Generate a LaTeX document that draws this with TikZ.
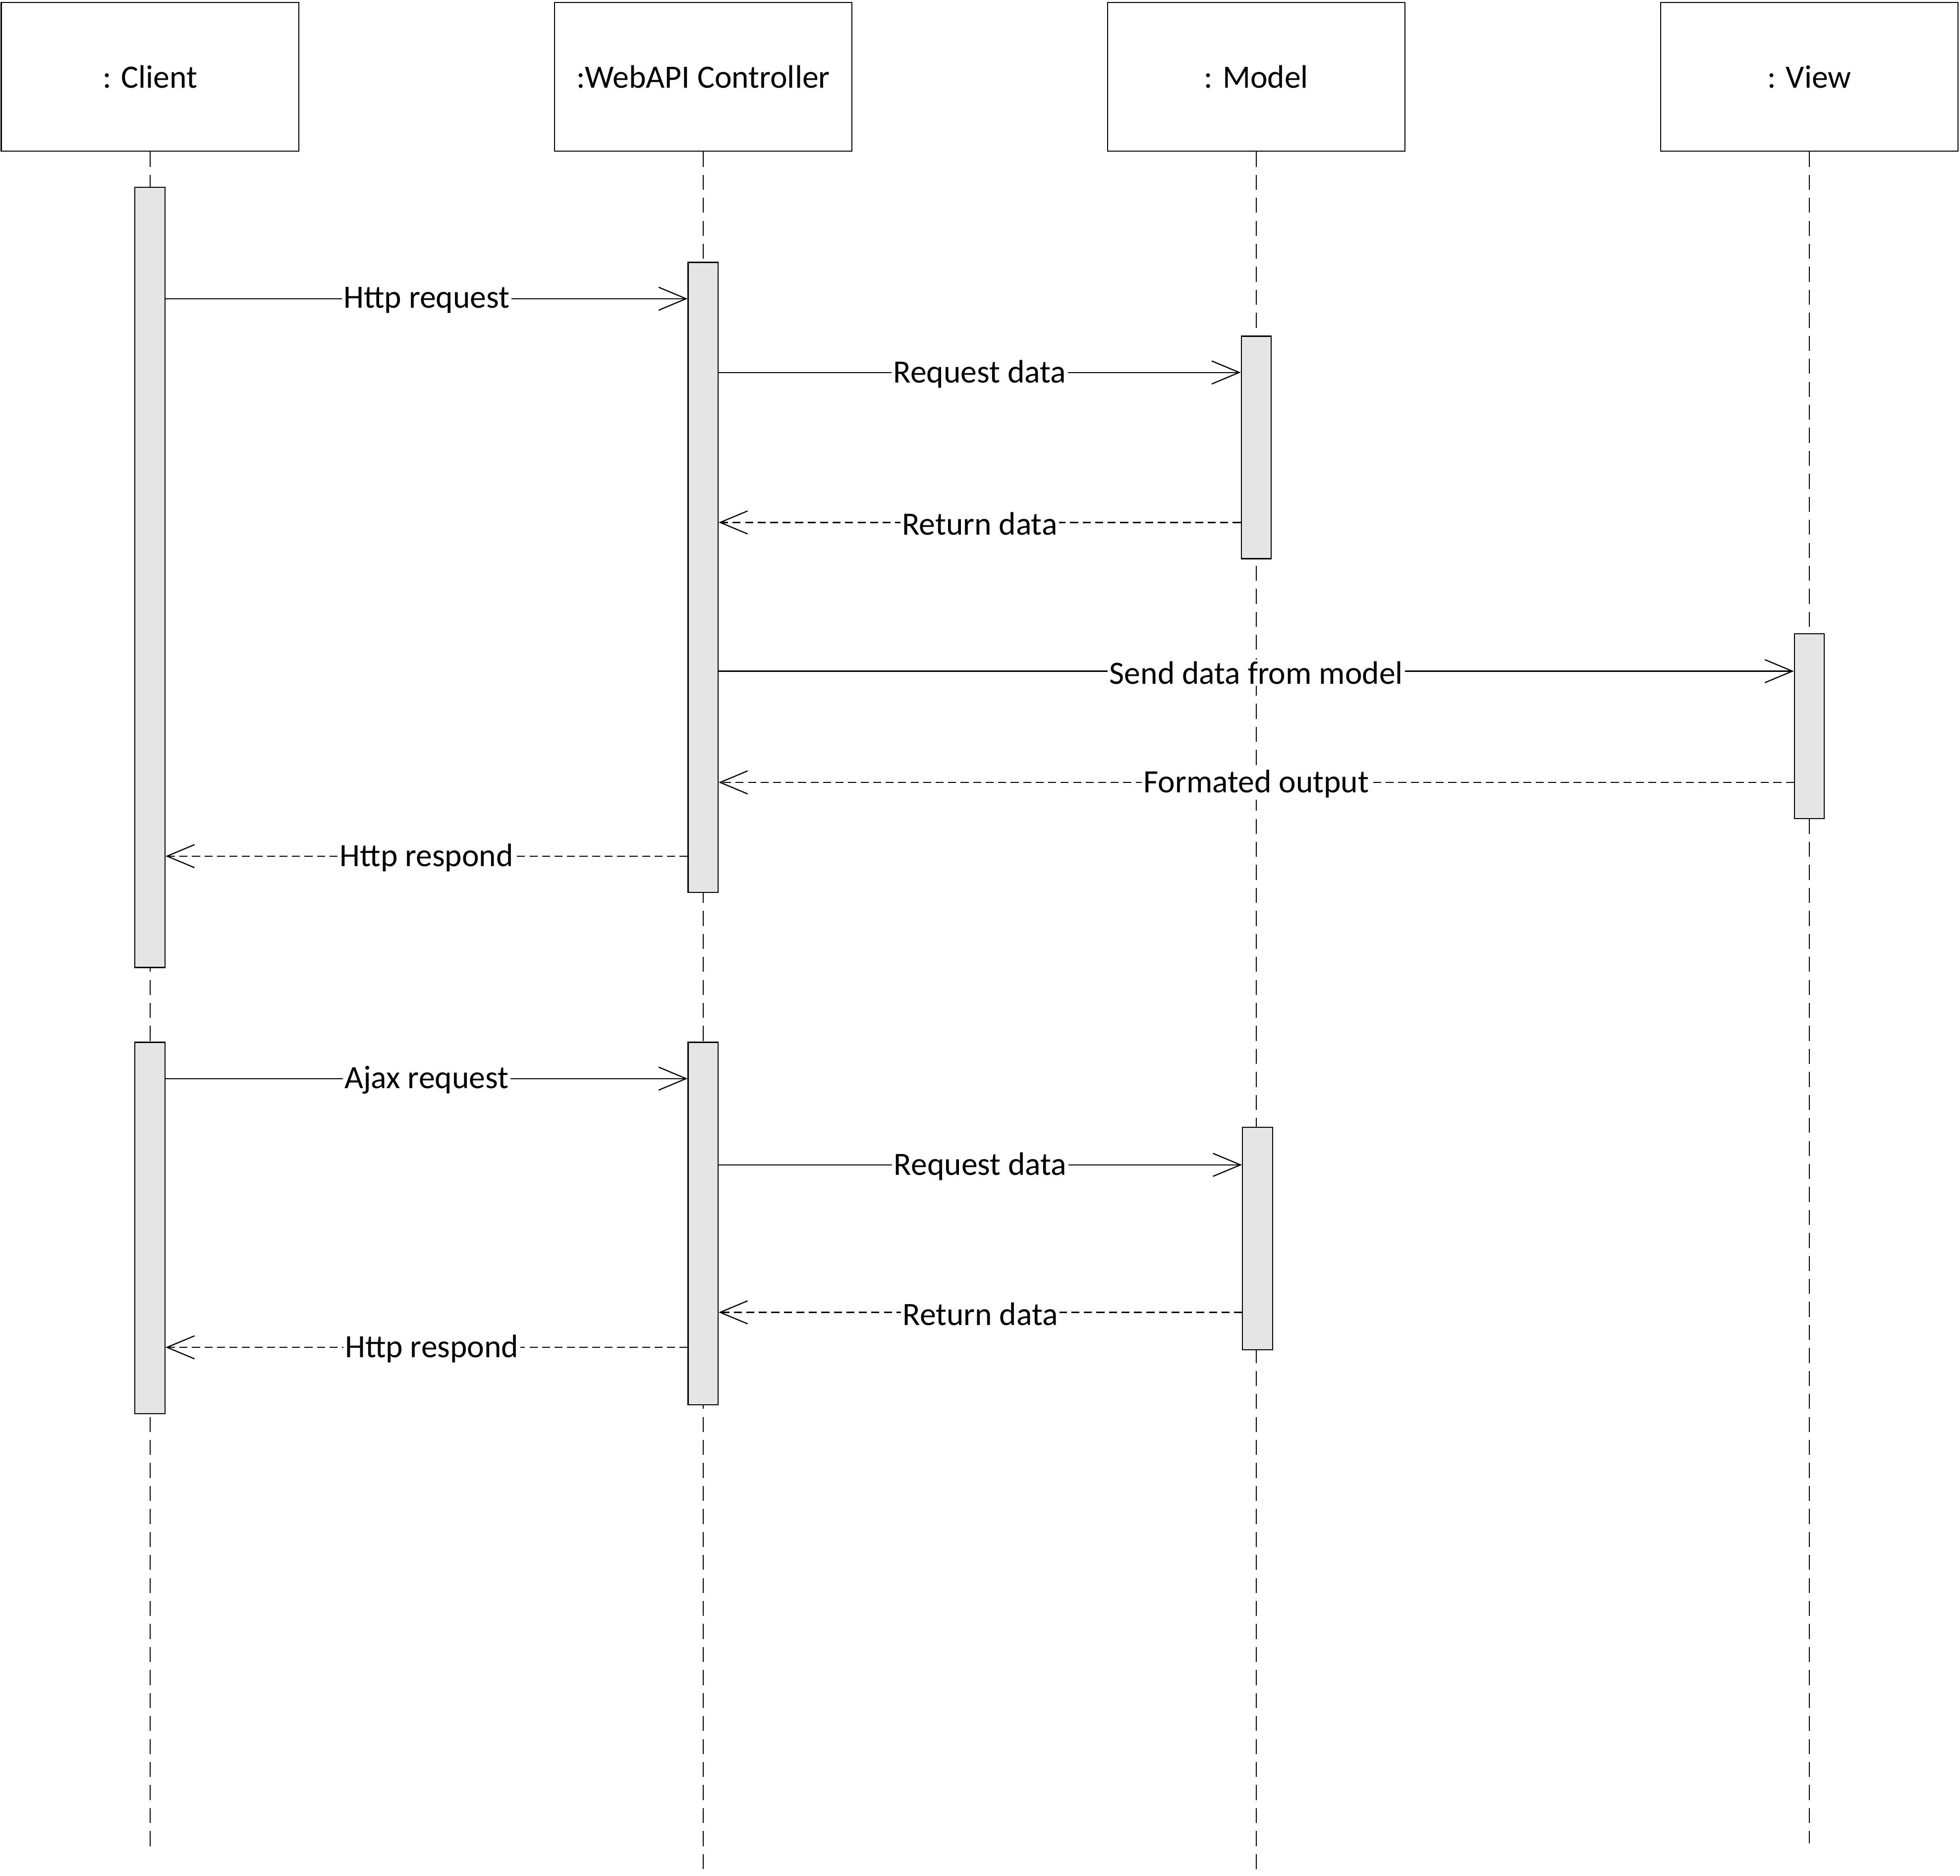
\documentclass[tikz,border=0pt]{standalone}
\usepackage{fontspec}
\setmainfont{Carlito}
\usetikzlibrary{arrows.meta}

\tikzset{
  actor/.style={draw, line width=0.6pt, minimum width=5.95cm, minimum height=2.975cm, inner sep=0pt},
  bar/.style={draw, line width=0.6pt, fill=black!10, minimum width=0.6cm, inner sep=0pt},
  life/.style={line width=0.6pt, dash pattern=on 0.3cm off 0.16cm},
  call/.style={line width=0.65pt, -{Straight Barb[length=0.55cm, width=0.46cm]}},
  reply/.style={call, dash pattern=on 0.16cm off 0.09cm},
  lbl/.style={fill=white, inner sep=1pt, yshift=-0.03cm}
}

\begin{document}
\begin{tikzpicture}[x=0.025cm, y=-0.025cm, every node/.append style={font=\fontsize{18.5}{22}\selectfont}]
        \useasboundingbox (0,0) rectangle (1568,1501);

        % objects
        \node[actor] (cli) at (120,61.5) {: Client};
        \node[actor] (api) at (562.5,61.5) {:WebAPI Controller};
        \node[actor] (mdl) at (1005,61.5) {: Model};
        \node[actor] (vw) at (1447.5,61.5) {: View};

        % lifelines
        \coordinate (cliEnd) at (120,1483);
        \coordinate (apiEnd) at (562.5,1497);
        \coordinate (mdlEnd) at (1005,1497);
        \coordinate (vwEnd) at (1447.5,1475);
        \draw[life] (cli.south) -- (cliEnd);
        \draw[life] (api.south) -- (apiEnd);
        \draw[life] (mdl.south) -- (mdlEnd);
        \draw[life] (vw.south) -- (vwEnd);

        % activations
        \node[bar, minimum height=15.6cm] (cliA) at (120,462) {};
        \node[bar, minimum height=12.6cm] (apiA) at (562.5,462) {};
        \node[bar, minimum height=4.45cm] (mdlA) at (1005,358) {};
        \node[bar, minimum height=3.7cm] (vwA) at (1447.5,581) {};
        \node[bar, minimum height=7.425cm] (cliB) at (120,982.5) {};
        \node[bar, minimum height=7.25cm] (apiB) at (562.5,979) {};
        \node[bar, minimum height=4.45cm] (mdlB) at (1006,991) {};

        % messages
        \draw[call] (cliA.east |- 0,239) -- node[lbl] {Http request} (apiA.west |- 0,239);
        \draw[call] (apiA.east |- 0,298) -- node[lbl] {Request data} (mdlA.west |- 0,298);
        \draw[reply] (mdlA.west |- 0,418) -- node[lbl] {Return data} (apiA.east |- 0,418);
        \draw[call] (apiA.east |- 0,537) -- node[lbl] {Send data from model} (vwA.west |- 0,537);
        \draw[reply] (vwA.west |- 0,626) -- node[lbl] {Formated output} (apiA.east |- 0,626);
        \draw[reply] (apiA.west |- 0,685) -- node[lbl] {Http respond} (cliA.east |- 0,685);

        \draw[call] (cliB.east |- 0,863) -- node[lbl] {Ajax request} (apiB.west |- 0,863);
        \draw[call] (apiB.east |- 0,932) -- node[lbl] {Request data} (mdlB.west |- 0,932);
        \draw[reply] (mdlB.west |- 0,1050) -- node[lbl] {Return data} (apiB.east |- 0,1050);
        \draw[reply] (apiB.west |- 0,1078) -- node[lbl, pos=.49] {Http respond} (cliB.east |- 0,1078);
    \end{tikzpicture}
\end{document}
